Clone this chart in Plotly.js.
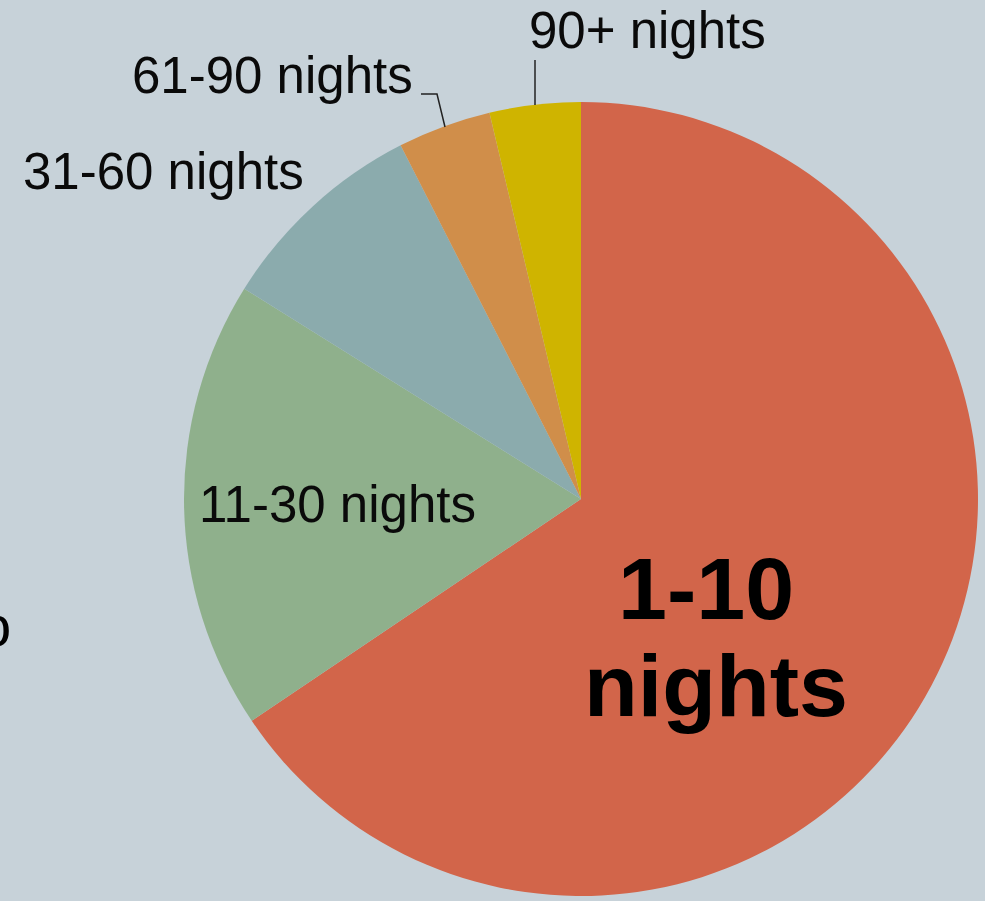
<!DOCTYPE html>
<html>
<head>
<meta charset="utf-8">
<script src="https://cdn.plot.ly/plotly-3.0.1.min.js"></script>
<style>html,body{margin:0;padding:0;background:#c7d2d9;overflow:hidden}#chart{width:985px;height:901px}</style>
</head>
<body>
<div id="chart"></div>
<script>
const categories = ["1-10 nights", "11-30 nights", "31-60 nights", "61-90 nights", "90+ nights"];
const shares = [65.5, 18.3, 8.6, 3.8, 3.7];
const sliceColors = ["#d2654a", "#8fb08c", "#8babad", "#d08e4a", "#cfb400"];

const W = 985, H = 901;
const px = x => x / W;
const py = y => 1 - y / H;

const normalFont = {family: "Liberation Sans, Arial, sans-serif", size: 51, color: "#0a0a0a"};
const boldFont = {family: "Liberation Sans, Arial, sans-serif", size: 88, color: "#000", weight: "bold"};

function ann(text, x, y, font) {
  return {text: text, x: px(x), y: py(y), xref: "paper", yref: "paper",
          xanchor: "center", yanchor: "middle", showarrow: false, font: font};
}

const annotations = [
  ann(categories[4], 647, 31, normalFont),
  ann(categories[3], 272, 76, normalFont),
  ann(categories[2], 163, 172, normalFont),
  ann(categories[1], 337, 504, normalFont),
  ann("<b>1-10</b>", 706, 588, boldFont),
  ann("<b>nights</b>", 716, 685, boldFont),
  {text: "o", x: px(13), y: py(625), xref: "paper", yref: "paper", xanchor: "right",
   yanchor: "middle", showarrow: false, font: {family: "Liberation Sans, Arial, sans-serif", size: 58, color: "#000"}}
];

const lineStyle = {color: "#222", width: 1.5};
const shapes = [
  {type: "path", xref: "paper", yref: "paper", line: lineStyle,
   path: `M ${px(421)} ${py(94)} L ${px(437)} ${py(94)} L ${px(445)} ${py(127)}`},
  {type: "line", xref: "paper", yref: "paper", line: lineStyle,
   x0: px(535), y0: py(60), x1: px(535), y1: py(105)}
];

const trace = {
  type: "pie",
  labels: categories,
  values: shares,
  sort: false,
  direction: "clockwise",
  rotation: 0,
  textinfo: "none",
  hoverinfo: "label+percent",
  marker: {colors: sliceColors, line: {width: 0}},
  domain: {x: [px(184), px(978)], y: [py(897), py(101)]},
  automargin: false
};

const layout = {
  width: W, height: H,
  margin: {l: 0, r: 0, t: 0, b: 0, pad: 0},
  paper_bgcolor: "#c7d2d9",
  plot_bgcolor: "#c7d2d9",
  showlegend: false,
  annotations: annotations,
  shapes: shapes
};

Plotly.newPlot("chart", [trace], layout, {displayModeBar: false, staticPlot: true});
</script>
</body>
</html>
